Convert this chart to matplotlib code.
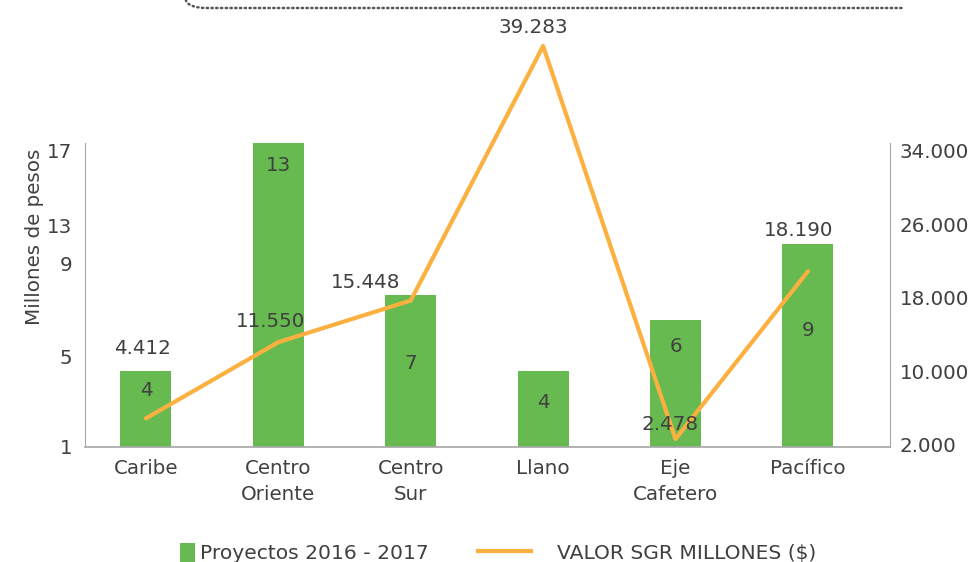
import numpy as np
import matplotlib
matplotlib.use("Agg")
import matplotlib.pyplot as plt
from matplotlib.lines import Line2D
from matplotlib.patches import Patch

# ---- data ----
regions = ["Caribe", "Centro\nOriente", "Centro\nSur", "Llano", "Eje\nCafetero", "Pacífico"]
proyectos = [4, 13, 7, 4, 6, 9]
valor_sgr = [4412, 11550, 15448, 39283, 2478, 18190]
valor_labels = ["4.412", "11.550", "15.448", "39.283", "2.478", "18.190"]
left_tick_labels = ["1", "5", "9", "13", "17"]
right_tick_labels = ["2.000", "10.000", "18.000", "26.000", "34.000"]
legend_labels = ["Proyectos 2016 - 2017", "VALOR SGR MILLONES ($)"]

# ---- layout (positions of ticks / labels as drawn in the original) ----
left_tick_pos = [1.0, 4.58, 8.24, 9.74, 12.69]
right_tick_pos = [2013, 8850, 15780, 22615, 29547]
bar_label_y = [3.24, 12.1, 4.27, 2.77, 4.94, 5.6]
line_label_off = [(-3, 70), (-8, 21), (-45, 18), (-10, 19), (-5, 15), (-9, 41)]

GREEN = "#66BA50"
ORANGE = "#FBB040"
TXT = "#404040"
SPINE = "#A6A6A6"
FS = 14.3

plt.rcParams["font.family"] = ["DejaVu Sans"]

fig = plt.figure(figsize=(9.7, 5.62), dpi=100)
ax = fig.add_axes([85/970, 1-447/562, 805/970, 304/562])
x = np.arange(len(regions))

ax.bar(x, proyectos, width=0.385, bottom=0, color=GREEN, zorder=2)
ax.set_ylim(1, 12.97)
ax.set_xlim(-0.46, 5.62)
ax.set_yticks(left_tick_pos)
ax.set_yticklabels(left_tick_labels)
ax.set_xticks(x)
ax.set_xticklabels(regions, linespacing=1.45)
ax.tick_params(axis="both", length=0, labelsize=FS, colors=TXT)
ax.tick_params(axis="x", pad=9)
ax.tick_params(axis="y", pad=9)
for s in ["top", "right"]:
    ax.spines[s].set_visible(False)
ax.spines["left"].set_color(SPINE)
ax.spines["bottom"].set_color(SPINE)
ax.spines["bottom"].set_linewidth(1.2)
ax.set_ylabel("Millones de pesos", fontsize=FS, color=TXT)
ax.yaxis.set_label_coords(-0.051, 0.69)

for xi, v, ly in zip(x, proyectos, bar_label_y):
    ax.text(xi, ly, str(v), ha="center", va="center", fontsize=FS, color=TXT, zorder=4)

ax2 = ax.twinx()
ax2.plot(x, valor_sgr, color=ORANGE, lw=3, clip_on=False, zorder=3, solid_capstyle="round")
ax2.set_ylim(1733, 30203)
ax2.set_yticks(right_tick_pos)
ax2.set_yticklabels(right_tick_labels)
ax2.tick_params(axis="y", length=0, labelsize=FS, colors=TXT, pad=7)
for s in ["top", "left", "bottom"]:
    ax2.spines[s].set_visible(False)
ax2.spines["right"].set_color(SPINE)

for xi, v, lab, off in zip(x, valor_sgr, valor_labels, line_label_off):
    ax2.annotate(lab, (xi, v), xytext=off, textcoords="offset pixels",
                 ha="center", va="center", fontsize=FS, color=TXT,
                 annotation_clip=False, zorder=5)

# decorative dotted connector at top (quarter arc + horizontal run)
t = np.linspace(0, np.pi/2, 20)
qx = np.concatenate([206 - 20*np.cos(t), [902]])
qy = np.concatenate([8*np.sin(t), [8]])
fig.add_artist(Line2D(qx/970, 1 - qy/562, transform=fig.transFigure,
                      color="#555555", lw=1.8, ls=(0, (0.5, 1.4)), dash_capstyle="round"))

# legend: two parts so the square and the line can have different handle lengths
leg1 = fig.legend([Patch(facecolor=GREEN, edgecolor="none")], [legend_labels[0]],
                  loc="center left", bbox_to_anchor=(180/970, 0.016), frameon=False,
                  fontsize=14.6, labelcolor=TXT, handlelength=0.75, handleheight=1.1,
                  handletextpad=0.25, borderpad=0, borderaxespad=0)
leg2 = fig.legend([Line2D([0], [0], color=ORANGE, lw=3)], [legend_labels[1]],
                  loc="center left", bbox_to_anchor=(478/970, 0.016), frameon=False,
                  fontsize=14.6, labelcolor=TXT, handlelength=2.6,
                  handletextpad=1.3, borderpad=0, borderaxespad=0)

fig.savefig("out.png", dpi=100)
